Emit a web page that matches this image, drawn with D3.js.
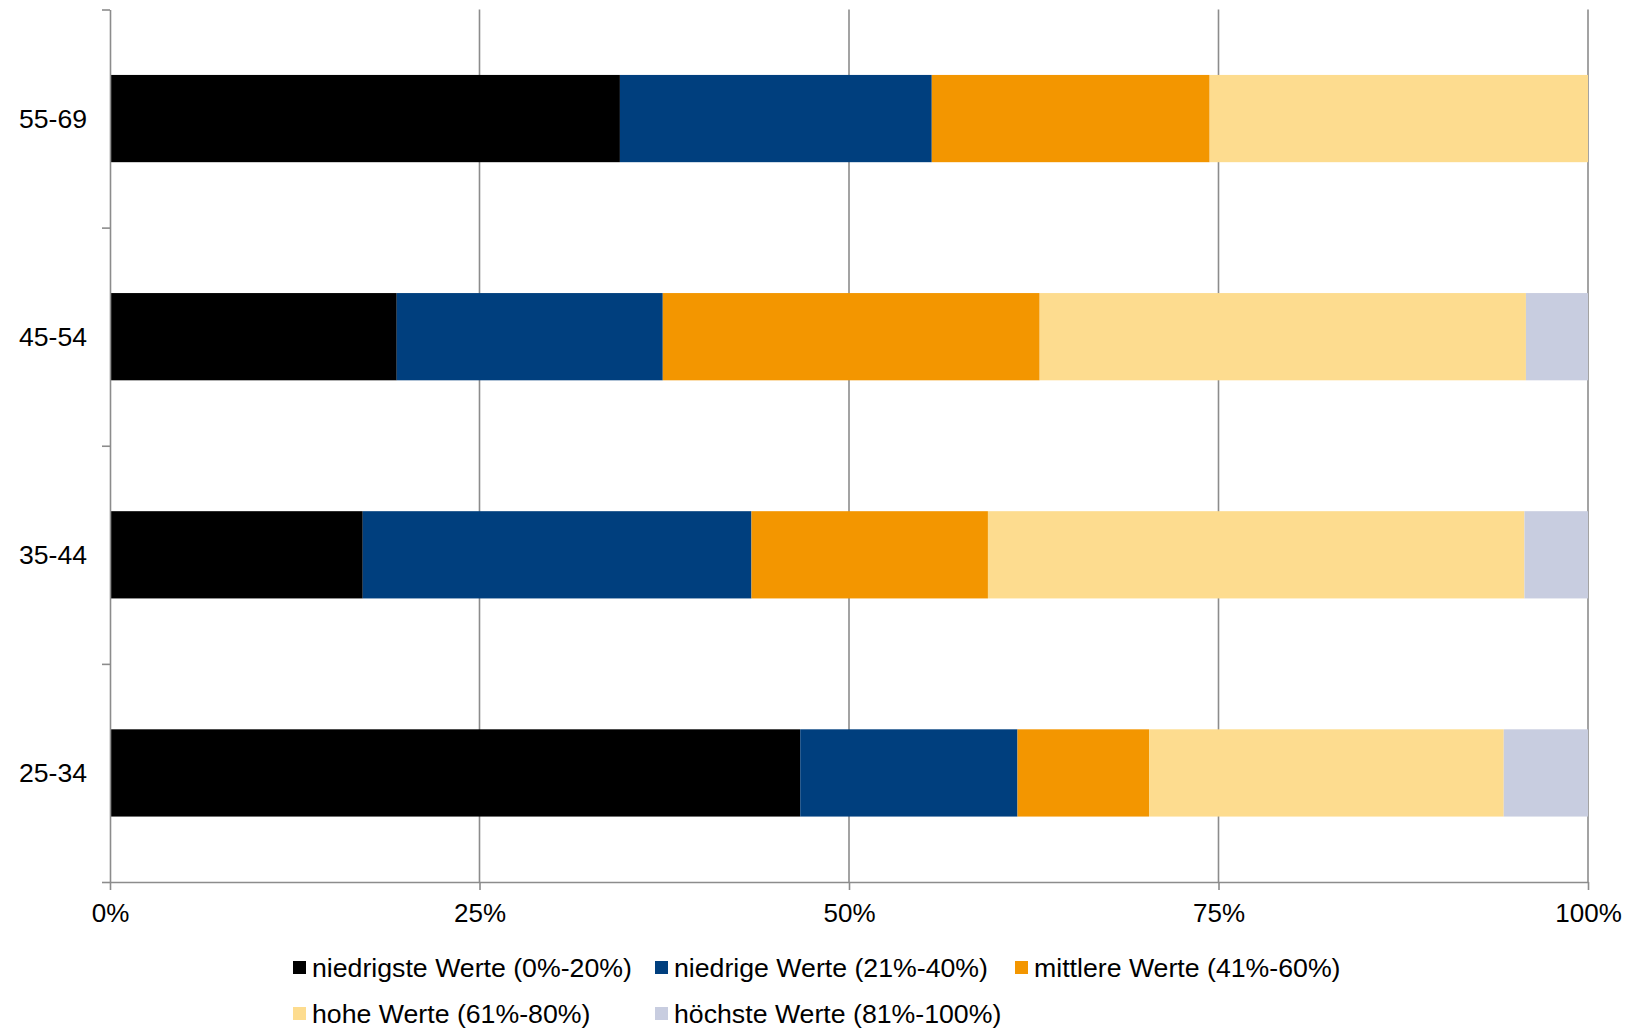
<!DOCTYPE html>
<html>
<head>
<meta charset="utf-8">
<script src="https://cdn.jsdelivr.net/npm/d3@7"></script>
<style>
  html, body { margin: 0; padding: 0; background: #ffffff; }
  svg { display: block; font-family: "Liberation Sans", Arial, Helvetica, sans-serif; }
</style>
</head>
<body>
<svg id="chart" width="1630" height="1029"></svg>
<script>
// Age groups, top to bottom
const categories = ["55-69", "45-54", "35-44", "25-34"];

// Series (share in percent per age group, same order as categories)
const seriesNames = [
  "niedrigste Werte (0%-20%)",
  "niedrige Werte (21%-40%)",
  "mittlere Werte (41%-60%)",
  "hohe Werte (61%-80%)",
  "höchste Werte (81%-100%)"
];
const niedrigste = [34.5, 19.4, 17.1, 46.7];
const niedrige   = [21.1, 18.0, 26.3, 14.7];
const mittlere   = [18.8, 25.5, 16.0,  8.9];
const hohe       = [25.6, 32.9, 36.3, 24.0];
const hoechste   = [ 0.0,  4.2,  4.3,  5.7];

const seriesColors = ["#000000", "#003f7e", "#f39600", "#fddc8f", "#c8cde0"];
const xTicks = [0, 25, 50, 75, 100];

const seriesValues = [niedrigste, niedrige, mittlere, hohe, hoechste];
const rows = categories.map((c, i) => {
  const r = { cat: c };
  seriesNames.forEach((s, k) => { r[s] = seriesValues[k][i]; });
  return r;
});

const svg = d3.select("#chart");
const plotLeft = 110, plotRight = 1588, plotTop = 9.5, plotBottom = 882;
const gridColor = "#8c8c8c";

const x = d3.scaleLinear().domain([0, 100]).range([plotLeft, plotRight]);
const y = d3.scaleBand().domain(categories).range([plotTop, plotBottom])
  .paddingInner(0.6).paddingOuter(0.3);
const yEdges = d3.scaleLinear().domain([0, categories.length]).range([plotTop, plotBottom]);

// vertical gridlines
svg.append("g").selectAll("line")
  .data(xTicks.slice(1))
  .join("line")
  .attr("x1", d => x(d)).attr("x2", d => x(d))
  .attr("y1", plotTop).attr("y2", plotBottom)
  .attr("stroke", gridColor).attr("stroke-width", 1.6);

// stacked bars
const stack = d3.stack().keys(seriesNames);
const layers = stack(rows);
svg.append("g").selectAll("g")
  .data(layers)
  .join("g")
  .attr("fill", (d, i) => seriesColors[i])
  .selectAll("rect")
  .data(d => d)
  .join("rect")
  .attr("x", d => x(d[0]))
  .attr("width", d => Math.max(0, x(d[1]) - x(d[0])))
  .attr("y", d => y(d.data.cat))
  .attr("height", y.bandwidth());

// x axis
const xAxis = d3.axisBottom(x)
  .tickValues(xTicks)
  .tickFormat(d => d + "%")
  .tickSize(8)
  .tickSizeOuter(0)
  .tickPadding(14);
const gx = svg.append("g").attr("transform", `translate(0,${plotBottom})`).call(xAxis);
gx.select(".domain").attr("stroke", gridColor).attr("stroke-width", 1.6);
gx.selectAll(".tick line").attr("stroke", gridColor).attr("stroke-width", 1.6);
gx.selectAll(".tick text").attr("font-size", 26).attr("fill", "#000")
  .attr("font-family", "'Liberation Sans', Arial, sans-serif");

// y axis: ticks at category boundaries
const yAxis = d3.axisLeft(yEdges)
  .tickValues(d3.range(categories.length + 1))
  .tickFormat("")
  .tickSize(8)
  .tickSizeOuter(0);
const gy = svg.append("g").attr("transform", `translate(${plotLeft},0)`).call(yAxis);
gy.select(".domain").attr("stroke", gridColor).attr("stroke-width", 1.6);
gy.selectAll(".tick line").attr("stroke", gridColor).attr("stroke-width", 1.6);

// category labels
svg.append("g").selectAll("text")
  .data(categories)
  .join("text")
  .attr("x", plotLeft - 23)
  .attr("y", d => y(d) + y.bandwidth() / 2)
  .attr("dy", "0.35em")
  .attr("text-anchor", "end")
  .attr("font-size", 26.6)
  .attr("fill", "#000")
  .text(d => d);

// legend
const legendPos = [
  [293, 961], [655, 961], [1015, 961],
  [293, 1007], [655, 1007]
];
const legend = svg.append("g").selectAll("g")
  .data(seriesNames)
  .join("g")
  .attr("transform", (d, i) => `translate(${legendPos[i][0]},${legendPos[i][1]})`);
legend.append("rect")
  .attr("width", 13).attr("height", 13)
  .attr("fill", (d, i) => seriesColors[i]);
legend.append("text")
  .attr("x", 19).attr("y", 16)
  .attr("font-size", 26.7)
  .attr("fill", "#000")
  .text(d => d);
</script>
</body>
</html>
